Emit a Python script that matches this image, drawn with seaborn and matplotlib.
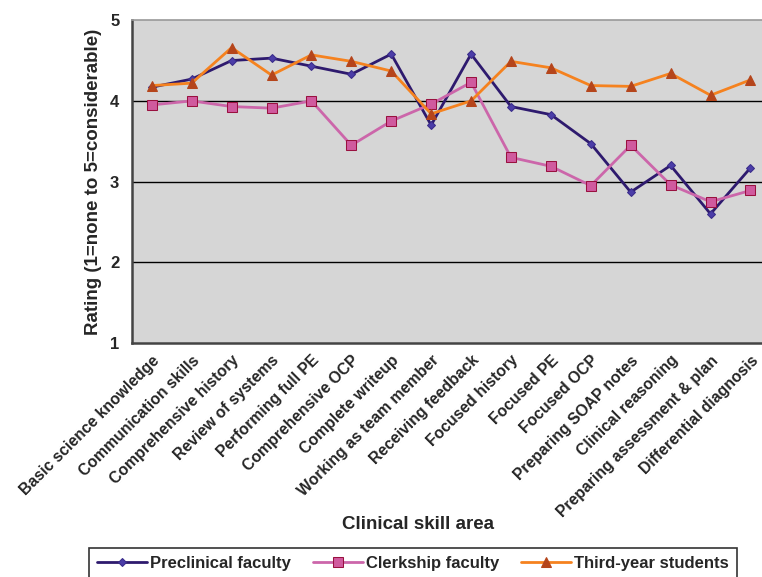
import numpy as np
import pandas as pd
import matplotlib.pyplot as plt
import seaborn as sns

# Skill areas and mean ratings
skills = ["Basic science knowledge", "Communication skills", "Comprehensive history",
          "Review of systems", "Performing full PE", "Comprehensive OCP",
          "Complete writeup", "Working as team member", "Receiving feedback",
          "Focused history", "Focused PE", "Focused OCP", "Preparing SOAP notes",
          "Clinical reasoning", "Preparing assessment & plan", "Differential diagnosis"]
preclinical = [4.17, 4.27, 4.50, 4.53, 4.43, 4.33, 4.58, 3.70,
               4.58, 3.93, 3.83, 3.47, 2.87, 3.20, 2.60, 3.17]
clerkship = [3.95, 4.00, 3.93, 3.91, 4.00, 3.45, 3.75, 3.96,
             4.23, 3.30, 3.19, 2.95, 3.45, 2.96, 2.75, 2.89]
third_year = [4.19, 4.22, 4.66, 4.32, 4.57, 4.49, 4.37, 3.84,
              4.00, 4.49, 4.41, 4.19, 4.18, 4.34, 4.07, 4.26]
series_names = ["Preclinical faculty", "Clerkship faculty", "Third-year students"]

sns.set_style("white")
plt.rcParams['font.family'] = ['Liberation Sans', 'DejaVu Sans']
plt.rcParams['font.weight'] = 'bold'

fig = plt.figure(figsize=(7.62, 5.77), dpi=100)
# plot area runs slightly past the right edge, as in the original
ax = fig.add_axes([0.173, 0.4055, 0.838, 0.5595])
ax.set_facecolor('#D6D6D6')

pos = np.arange(len(skills))
styles = [
    dict(color='#2E1A6E', marker='D', markersize=4, markerfacecolor='#4B3DA8', markeredgecolor='#3A2C8A'),
    dict(color='#CC66AA', marker='s', markersize=7, markerfacecolor='#D05A9E', markeredgecolor='#99113F'),
    dict(color='#F5821F', marker='^', markersize=7.5, markerfacecolor='#B5451B', markeredgecolor='#B5451B'),
]
for name, vals, st in zip(series_names, [preclinical, clerkship, third_year], styles):
    sns.lineplot(x=pos, y=vals, ax=ax, label=name, linewidth=2, **st)

ax.set_xlim(-0.5, len(skills) - 0.5)
ax.set_ylim(1, 5)
ax.set_yticks([1, 2, 3, 4, 5])
ax.set_yticklabels(['1', '2', '3', '4', '5'], fontsize=12, fontweight='bold')
for yv in [2, 3, 4]:
    ax.axhline(yv, color='black', linewidth=1, zorder=0.5)

# boundary tick marks, labels centred on categories
ax.set_xticks(np.arange(-0.5, len(skills), 1.0))
ax.set_xticklabels([])
ax.set_xticks(pos, minor=True)
ax.set_xticklabels(skills, minor=True, rotation=45, ha='right', rotation_mode='anchor',
                   fontsize=11.3, fontweight='bold')
ax.tick_params(axis='x', which='major', length=5, width=1, color='#333333', direction='out')
ax.tick_params(axis='x', which='minor', length=0, pad=7)
ax.tick_params(axis='y', length=5, width=1, color='#333333', direction='out', pad=4)

for side in ['left', 'bottom']:
    ax.spines[side].set_color('#444444')
    ax.spines[side].set_linewidth(1.8)
ax.spines['top'].set_color('#999999')
ax.spines['top'].set_linewidth(1.2)
ax.spines['right'].set_visible(False)

ax.set_ylabel('Rating (1=none to 5=considerable)', fontsize=13.5, fontweight='bold', labelpad=6)
ax.set_xlabel('Clinical skill area', fontsize=13.5, fontweight='bold')
ax.xaxis.set_label_coords(0.448, -0.535)

ax.legend_.remove()
handles, labels = ax.get_legend_handles_labels()
leg = fig.legend(handles, labels, loc='upper center', bbox_to_anchor=(0.542, 0.064),
                 ncol=3, frameon=True, fancybox=False, edgecolor='black',
                 prop={'size': 12, 'weight': 'bold'}, handlelength=3.0,
                 handletextpad=0.2, columnspacing=1.3, borderpad=0.45)
leg.get_frame().set_linewidth(1.2)

fig.savefig('out.png', dpi=100)
